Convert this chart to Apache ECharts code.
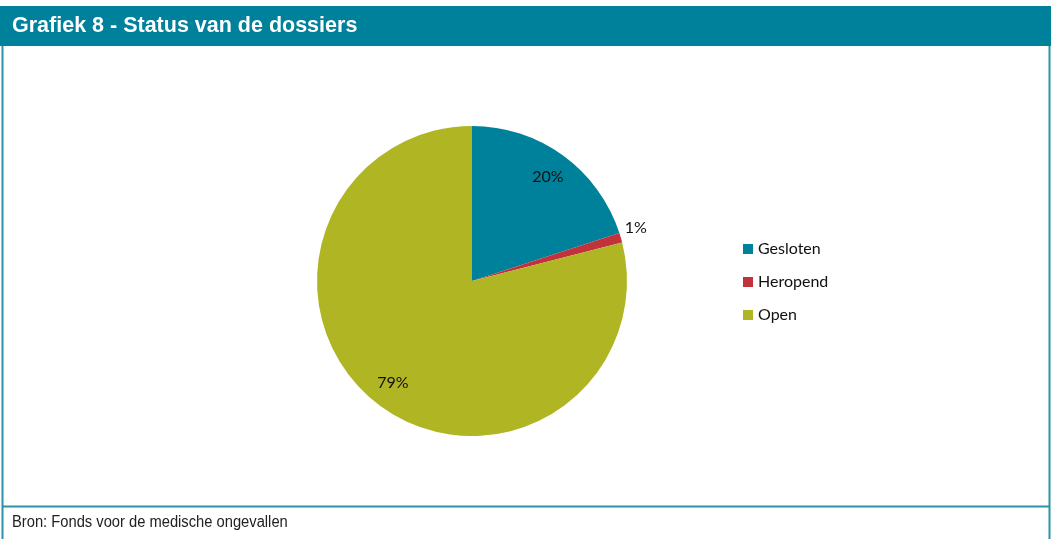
<!DOCTYPE html>
<html>
<head>
<meta charset="utf-8">
<script src="https://cdn.jsdelivr.net/npm/echarts@6/dist/echarts.min.js"></script>
<style>
  html, body { margin: 0; padding: 0; background: #fff; }
  #chart { width: 1053px; height: 539px; }
</style>
</head>
<body>
<div id="chart"></div>
<script>
// Status of the files (share of all dossiers, %)
const categories = ['Gesloten', 'Heropend', 'Open'];
const shares = [20, 1, 79];
const colors = ['#00819b', '#c1323b', '#b0b523'];
// Small slices get their label outside the pie
const outsideLabel = [false, true, false];

const titleText = 'Grafiek 8 - Status van de dossiers';
const sourceText = 'Bron: Fonds voor de medische ongevallen';

const teal = '#00819b';
const frame = '#2b92a7';
const labelFont = 'Lato, "Open Sans", sans-serif';

const chart = echarts.init(document.getElementById('chart'), null, { renderer: 'canvas' });

const pieCenter = [472, 281];
const pieRadius = 155;

const mainData = categories.map((name, i) => ({
  name,
  value: shares[i],
  itemStyle: { color: colors[i] },
  label: { show: outsideLabel[i] }
}));

// Transparent ring that carries the in-slice labels a bit further out
const ringData = categories.map((name, i) => ({
  name,
  value: shares[i],
  itemStyle: { color: 'rgba(0,0,0,0)' },
  label: { show: !outsideLabel[i] }
}));

chart.setOption({
  animation: false,
  backgroundColor: '#fff',
  graphic: [
    { type: 'rect', shape: { x: 0, y: 6, width: 1051, height: 40 }, style: { fill: teal }, z: 10 },
    { type: 'text', x: 12, y: 26, style: { text: titleText, fill: '#fff', font: 'bold 21.5px "Liberation Sans", Arial, sans-serif', textVerticalAlign: 'middle' }, z: 11 },
    { type: 'line', shape: { x1: 2.5, y1: 46, x2: 2.5, y2: 539 }, style: { stroke: frame, lineWidth: 2 }, z: 10 },
    { type: 'line', shape: { x1: 1049.5, y1: 46, x2: 1049.5, y2: 539 }, style: { stroke: frame, lineWidth: 2 }, z: 10 },
    { type: 'line', shape: { x1: 2, y1: 506.5, x2: 1050, y2: 506.5 }, style: { stroke: frame, lineWidth: 2 }, z: 10 },
    { type: 'text', x: 12, y: 523, scaleX: 0.92, style: { text: sourceText, fill: '#222', font: '16px "Liberation Sans Narrow", "Arial Narrow", "Liberation Sans", sans-serif', textVerticalAlign: 'middle' }, z: 11 }
  ],
  legend: {
    orient: 'vertical',
    left: 743,
    top: 241,
    padding: 0,
    itemWidth: 10,
    itemHeight: 10,
    itemGap: 17,
    icon: 'rect',
    textStyle: { fontFamily: labelFont, fontSize: 16, color: '#111', lineHeight: 16 },
    data: categories.map((name, i) => ({ name, itemStyle: { color: colors[i] } }))
  },
  series: [
    {
      type: 'pie',
      center: pieCenter,
      radius: [0, pieRadius],
      startAngle: 90,
      clockwise: true,
      silent: true,
      data: mainData,
      label: {
        position: 'outside',
        formatter: '{d}%',
        fontFamily: labelFont,
        fontSize: 16,
        color: '#111',
        distanceToLabelLine: 0
      },
      labelLine: { show: false, length: 4, length2: 0 },
      labelLayout: { dy: -9 },
      emphasis: { disabled: true }
    },
    {
      type: 'pie',
      center: pieCenter,
      radius: [pieRadius - 58, pieRadius],
      startAngle: 90,
      clockwise: true,
      silent: true,
      data: ringData,
      label: {
        position: 'inside',
        formatter: '{d}%',
        fontFamily: labelFont,
        fontSize: 16,
        color: '#111'
      },
      labelLine: { show: false },
      emphasis: { disabled: true }
    }
  ]
});
</script>
</body>
</html>
